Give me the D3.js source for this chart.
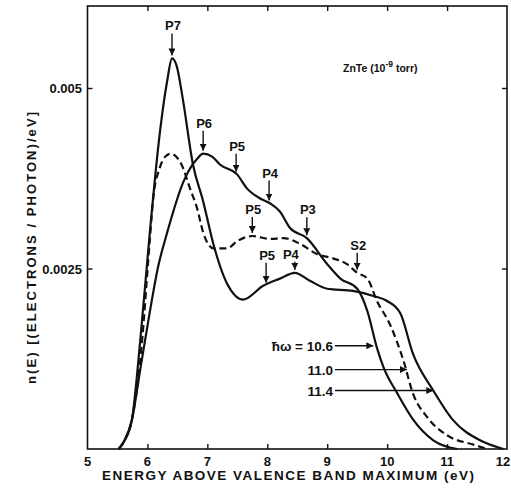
<!DOCTYPE html>
<html><head><meta charset="utf-8">
<script src="https://cdn.jsdelivr.net/npm/d3@7"></script>
<style>body{margin:0;background:#fff}svg{display:block}text{font-family:"Liberation Sans",Arial,sans-serif;font-weight:bold;fill:#111}</style>
</head><body><svg id="c" width="511" height="489"></svg>
<script>
// Photon energy 11.4 eV (solid, P7 peak)
const e114 = [5.52,5.62,5.74,5.88,6.04,6.21,6.33,6.41,6.49,6.59,6.76,6.93,7.1,7.33,7.6,7.93,8.21,8.46,8.71,9.0,9.43,9.77,10.0,10.22,10.43,10.77,11.1,11.55,11.94];
const n114 = [0,0.00012,0.0004,0.0015,0.0030,0.0044,0.0051,0.00541,0.0053,0.00485,0.00394,0.00343,0.00284,0.00229,0.00207,0.00226,0.00236,0.00244,0.00233,0.00222,0.00219,0.00212,0.00205,0.00188,0.00132,0.00081,0.0004,0.00012,0];
// Photon energy 11.0 eV (dashed)
const e110 = [5.52,5.62,5.74,5.9,6.04,6.1,6.2,6.3,6.39,6.49,6.58,6.71,6.83,6.93,7.1,7.33,7.5,7.75,8.05,8.27,8.55,8.83,9.1,9.33,9.5,9.67,9.83,10.05,10.27,10.43,10.67,11.0,11.44,11.67];
const n110 = [0,0.00012,0.0004,0.0014,0.0029,0.0035,0.00388,0.00405,0.00409,0.00404,0.00392,0.00361,0.00333,0.00300,0.00278,0.00278,0.00288,0.00295,0.00291,0.00292,0.00284,0.0027,0.00264,0.00256,0.00244,0.00236,0.00205,0.00172,0.00123,0.00077,0.00044,0.00019,0.00006,0];
// Photon energy 10.6 eV (solid, P6 peak)
const e106 = [5.52,5.62,5.74,5.88,6.04,6.18,6.33,6.6,6.83,6.93,7.08,7.21,7.5,7.66,7.88,8.05,8.21,8.38,8.66,9.0,9.22,9.5,9.67,9.83,9.94,10.17,10.44,10.77,11.17];
const n106 = [0,0.00012,0.0004,0.0011,0.0019,0.00253,0.0030,0.0037,0.00402,0.00409,0.00405,0.00394,0.0038,0.00361,0.00347,0.0034,0.00329,0.00306,0.00292,0.00256,0.00236,0.00222,0.00191,0.0014,0.00113,0.00077,0.0004,0.00012,0];

const xTicks = [5,6,7,8,9,10,11,12];
const yTicks = [0.0025,0.005];
const yTickLabels = ["0.0025","0.005"];

// Peak annotations
const peakLabels = ["P7","P6","P5","P4","P3","P5","P5","P4","S2"];
const peakE =      [6.41, 6.93, 7.48, 8.03, 8.66, 7.75, 7.98, 8.46, 9.5];
const peakN =      [0.00541,0.00409,0.0038,0.0034,0.00292,0.00295,0.00226,0.00244,0.00244];
const peakArrowLen=[22,20,18,20,18,16,20,8,17];

const hwLabels = ["ħω = 10.6","11.0","11.4"];
const hwTargetE = [9.77,10.33,10.77];
const hwTargetN = [0.00143,0.00110,0.00081];

const svg = d3.select("#c");
const x = d3.scaleLinear().domain([5,12]).range([87.5,507]);
const y = d3.scaleLinear().domain([0,0.005]).range([449,88]);
const frameTop = 6, frameBottom = 449;

svg.append("defs").append("marker").attr("id","ah").attr("viewBox","0 0 10 10")
  .attr("refX",10).attr("refY",5).attr("markerWidth",7).attr("markerHeight",7)
  .attr("markerUnits","userSpaceOnUse").attr("orient","auto")
  .append("path").attr("d","M0,0L10,5L0,10z").attr("fill","#111");

// frame
svg.append("rect").attr("x",x(5)).attr("y",frameTop).attr("width",x(12)-x(5)).attr("height",frameBottom-frameTop)
  .attr("fill","none").attr("stroke","#111").attr("stroke-width",1.6);

// axes with inner ticks
const gb = svg.append("g").attr("transform",`translate(0,${frameBottom})`)
  .call(d3.axisTop(x).tickValues(xTicks.slice(1,-1)).tickSize(5).tickFormat(""));
const gt = svg.append("g").attr("transform",`translate(0,${frameTop})`)
  .call(d3.axisBottom(x).tickValues(xTicks.slice(1,-1)).tickSize(5).tickFormat(""));
const gl = svg.append("g").attr("transform",`translate(${x(5)},0)`)
  .call(d3.axisRight(y).tickValues(yTicks).tickSize(5).tickFormat(""));
const gr = svg.append("g").attr("transform",`translate(${x(12)},0)`)
  .call(d3.axisLeft(y).tickValues(yTicks).tickSize(5).tickFormat(""));
[gb,gt,gl,gr].forEach(g=>{g.select(".domain").remove();g.selectAll("line").attr("stroke","#111").attr("stroke-width",1.4);});

// tick labels
svg.append("g").selectAll("text").data(xTicks).join("text")
  .attr("x",d=>Math.min(x(d),503)).attr("y",466).attr("text-anchor","middle").attr("font-size",13).text(d=>d);
svg.append("g").selectAll("text").data(yTicks).join("text")
  .attr("x",82).attr("y",d=>y(d)+5).attr("text-anchor","end").attr("font-size",13)
  .text((d,i)=>yTickLabels[i]);

svg.append("text").attr("x",288).attr("y",480).attr("text-anchor","middle").attr("font-size",13.5)
  .attr("textLength",372).attr("lengthAdjust","spacing").text("ENERGY ABOVE VALENCE BAND MAXIMUM (eV)");
svg.append("text").attr("transform","translate(36,248) rotate(-90)").attr("text-anchor","middle").attr("font-size",13)
  .attr("textLength",272).attr("lengthAdjust","spacing").text("n(E) [(ELECTRONS / PHOTON)/eV]");

// curves
const line = d3.line().x(d=>x(d[0])).y(d=>y(d[1])).curve(d3.curveMonotoneX);
const series = [
  {e:e114,n:n114,dash:null},
  {e:e110,n:n110,dash:"7,4"},
  {e:e106,n:n106,dash:null}];
svg.append("g").selectAll("path").data(series).join("path")
  .attr("d",s=>line(s.e.map((v,i)=>[v,s.n[i]])))
  .attr("fill","none").attr("stroke","#111").attr("stroke-width",2.2)
  .attr("stroke-dasharray",s=>s.dash);

// peak arrows
const pg = svg.append("g");
peakLabels.forEach((lab,i)=>{
  const px = x(peakE[i]), py = y(peakN[i]) - 3;
  const y0 = py - peakArrowLen[i];
  pg.append("line").attr("x1",px).attr("y1",y0).attr("x2",px).attr("y2",py)
    .attr("stroke","#111").attr("stroke-width",1.4).attr("marker-end","url(#ah)");
  pg.append("text").attr("x",px+(i===7?-4:1)).attr("y",y0-3).attr("text-anchor","middle")
    .attr("font-size",13).text(lab);
});

// photon energy arrows
const hg = svg.append("g");
const hwY = hwTargetN.map(v=>y(v));
hwLabels.forEach((lab,i)=>{
  hg.append("text").attr("x",333).attr("y",hwY[i]+5).attr("text-anchor","end").attr("font-size",13.5).text(lab);
  hg.append("line").attr("x1",335).attr("y1",hwY[i]).attr("x2",x(hwTargetE[i])).attr("y2",hwY[i])
    .attr("stroke","#111").attr("stroke-width",1.3).attr("marker-end","url(#ah)");
});

// sample label
const t = svg.append("text").attr("x",343).attr("y",72).attr("font-size",10.5);
t.append("tspan").text("ZnTe (10");
t.append("tspan").attr("dy",-5).attr("font-size",8.5).text("-9");
t.append("tspan").attr("dy",5).text(" torr)");
</script></body></html>
